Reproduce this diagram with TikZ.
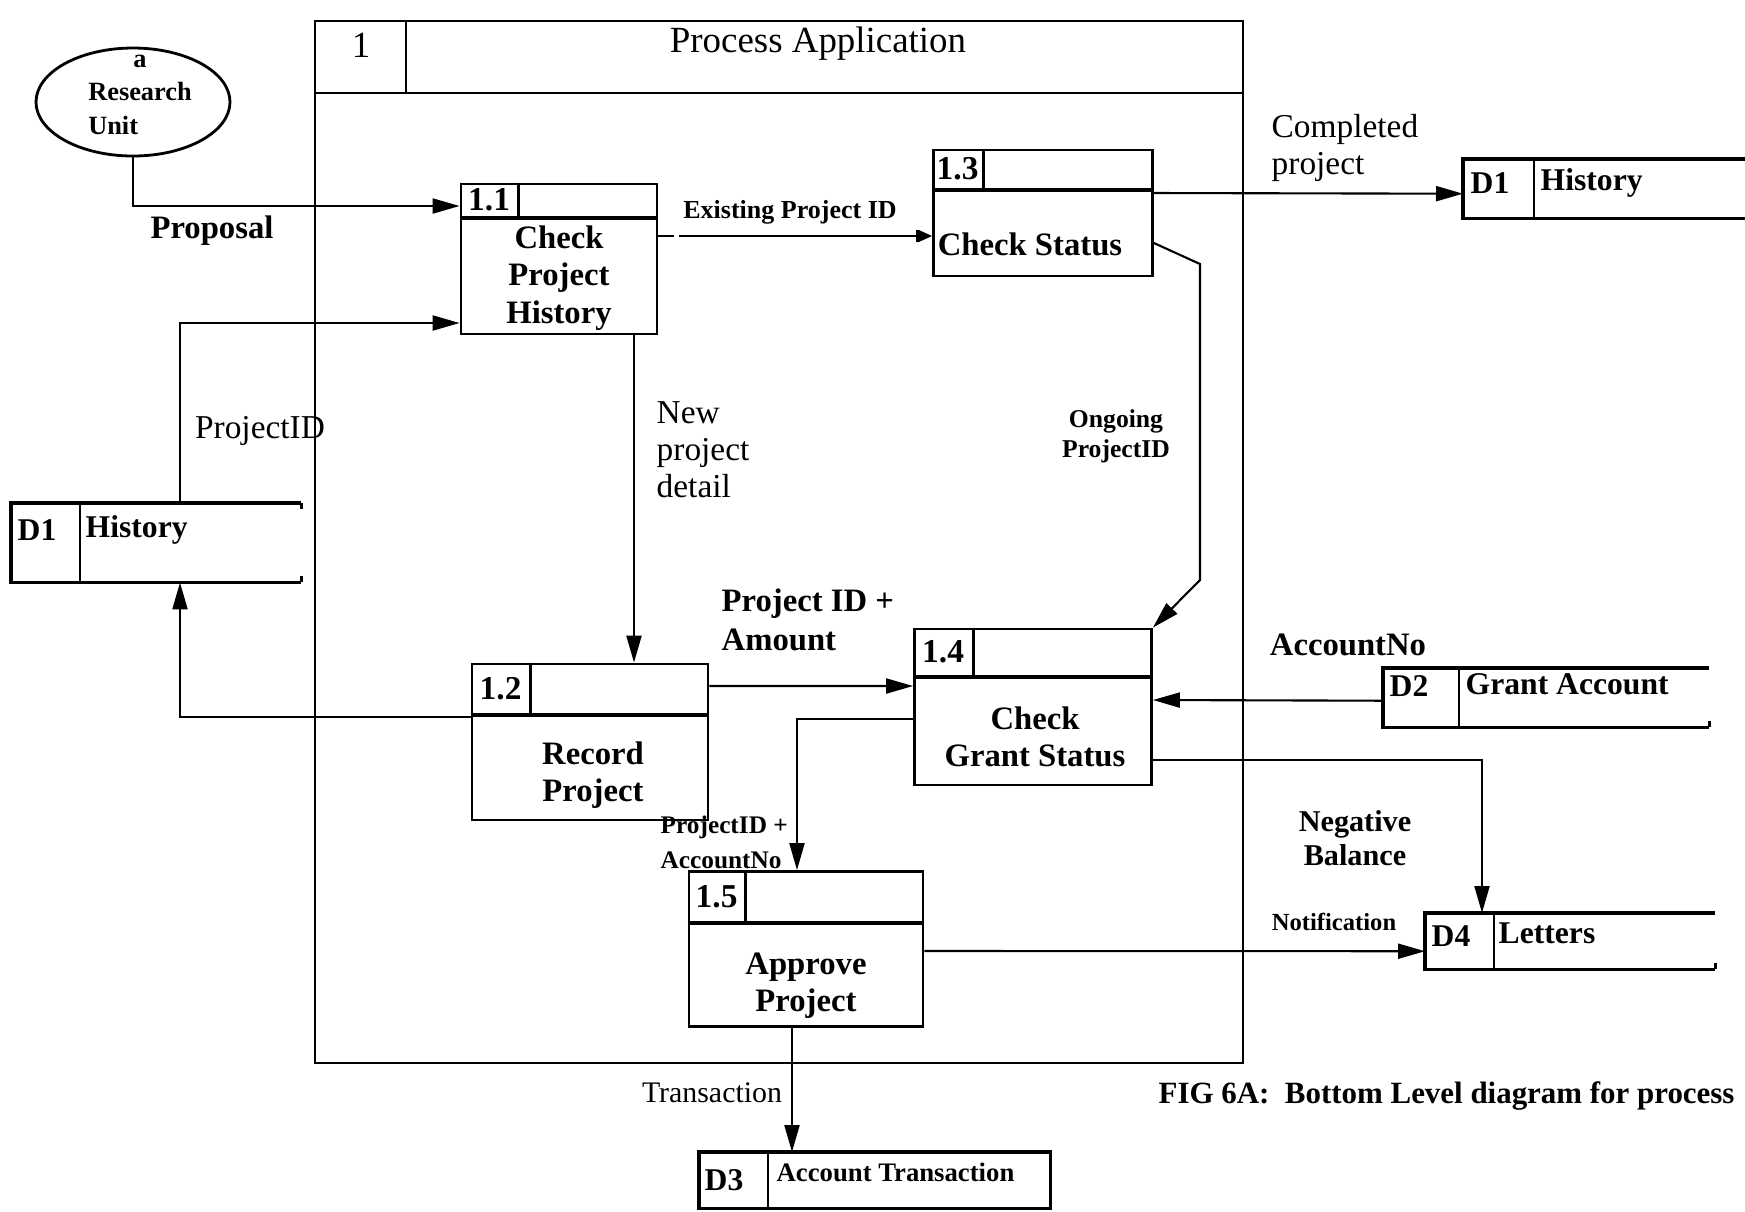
\documentclass[tikz,border=0pt]{standalone}
\usepackage{fontspec}
\setmainfont{Liberation Serif}
\usetikzlibrary{shapes.geometric,arrows.meta,positioning,calc}

\begin{document}
\begin{tikzpicture}[
  x=1cm,y=-1cm,
  proc/.style={draw,line width=0.8pt,inner sep=0pt},
  store/.style={inner sep=0pt,anchor=north west},
  num/.style={font=\fontsize{9.5}{11}\selectfont\bfseries,inner sep=0pt},
  ptxt/.style={font=\fontsize{9.3}{10.6}\selectfont\bfseries,align=center,inner sep=0pt},
  stxt/.style={font=\fontsize{9}{11}\selectfont\bfseries,anchor=west,inner sep=0pt},
  flow/.style={line width=0.6pt,-{Triangle[length=2.7mm,width=1.5mm]}},
  exist/.style={line width=0.6pt,dash pattern=on 4.5pt off 1.5pt on 400pt,
                -{Bar[width=1.2mm] Triangle[length=1.4mm,width=1.2mm]}},
  lbl/.style={font=\fontsize{9.5}{10.5}\selectfont,align=left,inner sep=0pt},
  blbl/.style={font=\fontsize{9.3}{11}\selectfont\bfseries,align=left,inner sep=0pt},
  slbl/.style={font=\fontsize{7.5}{10}\selectfont\bfseries,align=left,inner sep=0pt},
]
\useasboundingbox (0,0) rectangle (17.45,12.11);
\clip (0,0) rectangle (17.45,12.11);

% Process 1 --- outer frame
\node[draw,line width=0.7pt,minimum width=9.28cm,minimum height=10.42cm] (p1) at (7.79,5.42) {};
\draw[line width=0.7pt] ($(p1.north west)+(0,0.73)$) -- ($(p1.north east)+(0,0.73)$);
\draw[line width=0.7pt] ($(p1.north west)+(0.92,0)$) -- ($(p1.north west)+(0.92,0.73)$);
\node[font=\fontsize{10.5}{12}\selectfont] (p1id) at (3.61,0.45) {1};
\node[font=\fontsize{10.5}{12}\selectfont] (p1name) at (8.18,0.44) {Process Application};

% External entity
\node[draw,ellipse,line width=0.8pt,minimum width=1.94cm,minimum height=1.08cm] (ru) at (1.33,1.02) {};
\node[font=\fontsize{7.5}{9.5}\selectfont\bfseries,inner sep=0pt] (rutxt) at (1.40,0.94)
  {\begin{tabular}{@{}l@{}}\multicolumn{1}{@{}c@{}}{a}\\Research\\Unit\end{tabular}};

% Sub-processes
\node[proc,minimum width=1.96cm,minimum height=1.50cm] (p11) at (5.59,2.59) {};
\node[proc,minimum width=2.36cm,minimum height=1.56cm] (p12) at (5.90,7.42) {};
\node[proc,minimum width=2.19cm,minimum height=1.26cm] (p13) at (10.43,2.13) {};
\node[proc,minimum width=2.37cm,minimum height=1.56cm] (p14) at (10.33,7.07) {};
\node[proc,minimum width=2.34cm,minimum height=1.55cm] (p15) at (8.06,9.49) {};
\foreach \n/\h/\d/\id in {p11/0.35/0.59/1.1,p12/0.52/0.60/1.2,p13/0.41/0.51/1.3,p14/0.49/0.60/1.4,p15/0.53/0.58/1.5}{
  \draw[line width=1.1pt] ($(\n.north west)+(0,\h)$) -- ($(\n.north east)+(0,\h)$);
  \draw[line width=0.8pt] ($(\n.north west)+(\d,0)$) -- ($(\n.north west)+(\d,\h)$);
  \node[num] (\n-id) at ($(\n.north west)+(\d/2,\h/2)$) {\id};
}
\node[ptxt] (p11txt) at (5.59,2.78) {Check\\Project\\History};
\node[ptxt] (p12txt) at (5.93,7.75) {Record\\Project};
\node[ptxt] (p13txt) at (10.30,2.44) {Check Status};
\node[ptxt] (p14txt) at (10.35,7.37) {Check\\Grant Status};
\node[ptxt] (p15txt) at (8.06,9.86) {Approve\\Project};

% Data stores
\node[store,minimum width=2.89cm,minimum height=0.78cm] (d1l) at (0.11,5.03) {};
\node[store,minimum width=3.00cm,minimum height=0.58cm] (d1r) at (14.63,1.59) {};
\node[store,minimum width=3.25cm,minimum height=0.58cm] (d2) at (13.83,6.68) {};
\node[store,minimum width=3.50cm,minimum height=0.55cm] (d3) at (6.99,11.52) {};
\node[store,minimum width=2.89cm,minimum height=0.55cm] (d4) at (14.25,9.13) {};
\foreach \s/\d in {d1l/0.69,d1r/0.71,d2/0.76,d4/0.69}{
  \draw[line width=0.9pt] (\s.north east) -- (\s.north west) -- (\s.south west) -- (\s.south east);
  \draw[line width=0.8pt] ($(\s.north west)+(\d,0)$) -- ($(\s.south west)+(\d,0)$);
  \draw[line width=0.8pt] (\s.south east) -- ++(0,-0.06);
}
\draw[line width=0.8pt] (d1l.north east) -- ++(0,0.06);
\draw[line width=0.9pt] (d3.north west) rectangle (d3.south east);
\draw[line width=0.8pt] ($(d3.north west)+(0.69,0)$) -- ($(d3.south west)+(0.69,0)$);
\node[stxt] (d1l-id) at (0.17,5.30) {D1};
\node[stxt] (d1l-nm) at (0.85,5.30) {History};
\node[stxt] (d1r-id) at (14.70,1.83) {D1};
\node[stxt] (d1r-nm) at (15.40,1.83) {History};
\node[stxt] (d2-id) at (13.89,6.86) {D2};
\node[stxt] (d2-nm) at (14.65,6.84) {Grant Account};
\node[stxt] (d4-id) at (14.31,9.36) {D4};
\node[stxt] (d4-nm) at (14.98,9.33) {Letters};
\node[stxt] (d3-id) at (7.04,11.80) {D3};
\node[stxt,font=\fontsize{7.6}{9}\selectfont\bfseries] (d3-nm) at (7.76,11.72) {Account Transaction};

% Data flows
\coordinate (og1) at (12.00,2.64);
\coordinate (og2) at (12.00,5.80);
\draw[flow] (ru.south) |- ([yshift=0.53cm]p11.west);
\draw[flow] ([xshift=1.69cm]d1l.north west) |- ([yshift=-0.64cm]p11.west);
\draw[exist] ([yshift=0.23cm]p11.east) -- ([yshift=-0.23cm]p13.west);
\draw[flow] ([xshift=0.75cm]p11.south) -- ([xshift=0.44cm]p12.north);
\draw[flow] ([yshift=-0.30cm]p13.east) -- (og1) -- (og2) -- (p14.north east);
\draw[flow] ([yshift=0.20cm]p13.east) -- ([yshift=-0.05cm]d1r.west);
\draw[flow] ([yshift=0.56cm]p12.east) -- ([yshift=0.21cm]p14.west);
\draw[flow] ([yshift=0.25cm]p12.west) -| ([xshift=1.69cm]d1l.south west);
\draw[flow] ([yshift=-0.03cm]d2.west) -- ([yshift=0.07cm]p14.east);
\draw[flow] ([yshift=-0.12cm]p14.west) -| ([xshift=-0.09cm]p15.north);
\draw[flow] ([yshift=-0.53cm]p14.east) -| ([xshift=0.57cm]d4.north west);
\draw[flow] ([yshift=-0.02cm]p15.east) -- ([yshift=-0.10cm]d4.west);
\draw[flow] ([xshift=-0.14cm]p15.south) -- ([xshift=0.93cm]d3.north west);

% Flow labels
\node[blbl] (lprop) at (2.12,2.31) {Proposal};
\node[lbl] (lpid) at (2.60,4.31) {ProjectID};
\node[slbl,font=\fontsize{7.4}{9}\selectfont\bfseries] (lexist) at (7.90,2.12) {Existing Project ID};
\node[lbl,anchor=west] (lnew) at (6.56,4.50) {New\\project\\detail};
\node[slbl,align=center,font=\fontsize{7.3}{8.6}\selectfont\bfseries] (long) at (11.16,4.36) {Ongoing\\ProjectID};
\node[lbl,anchor=west] (lcomp) at (12.71,1.48) {Completed\\project};
\node[blbl,anchor=west] (lamt) at (7.21,6.20) {Project ID +\\Amount};
\node[blbl] (lacc) at (13.48,6.45) {AccountNo};
\node[slbl,anchor=west,font=\fontsize{7.2}{10}\selectfont\bfseries] (lpa) at (6.60,8.42) {ProjectID +\\AccountNo};
\node[blbl,align=center,font=\fontsize{8.6}{9.6}\selectfont\bfseries] (lneg) at (13.55,8.38) {Negative\\Balance};
\node[slbl,font=\fontsize{7}{9}\selectfont\bfseries] (lnot) at (13.34,9.22) {Notification};
\node[lbl,font=\fontsize{8.5}{10}\selectfont] (ltrans) at (7.12,10.93) {Transaction};

% Caption
\node[font=\fontsize{8.8}{11}\selectfont\bfseries,anchor=west,inner sep=0pt] (cap) at (11.58,10.96)
  {FIG 6A:\ \ Bottom Level diagram for process};
\end{tikzpicture}
\end{document}
